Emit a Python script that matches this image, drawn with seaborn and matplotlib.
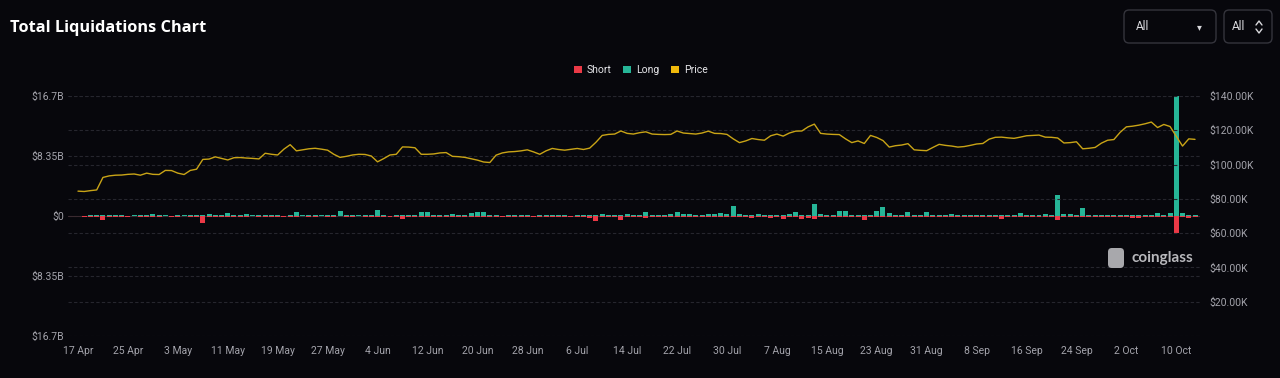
import matplotlib
matplotlib.use("Agg")
import matplotlib.pyplot as plt
import seaborn as sns
import pandas as pd
from matplotlib.patches import Patch, FancyBboxPatch
from matplotlib.lines import Line2D

sns.set_theme(style="dark")
plt.rcParams['font.family'] = ['Roboto', 'DejaVu Sans']

# ---------------- data ----------------
day_index = list(range(180))   # daily, 17 Apr .. 13 Oct
tick_days = list(range(0, 180, 8))
tick_labels = ["17 Apr", "25 Apr", "3 May", "11 May", "19 May", "27 May", "4 Jun",
               "12 Jun", "20 Jun", "28 Jun", "6 Jul", "14 Jul", "22 Jul", "30 Jul",
               "7 Aug", "15 Aug", "23 Aug", "31 Aug", "8 Sep", "16 Sep", "24 Sep",
               "2 Oct", "10 Oct"]

# long liquidations, $B
long_liq = [
    0.06, 0.05, 0.07, 0.08, 0.10, 0.15, 0.15, 0.08, 0.06, 0.07,
    0.12, 0.08, 0.30, 0.07, 0.08, 0.06, 0.07, 0.09, 0.10, 0.08,
    0.10, 0.30, 0.08, 0.15, 0.42, 0.08, 0.12, 0.30, 0.08, 0.20,
    0.14, 0.08, 0.07, 0.06, 0.09, 0.56, 0.08, 0.12, 0.07, 0.08,
    0.09, 0.15, 0.70, 0.14, 0.08, 0.07, 0.08, 0.09, 0.83, 0.08,
    0.06, 0.07, 0.08, 0.09, 0.14, 0.56, 0.56, 0.10, 0.12, 0.08,
    0.22, 0.10, 0.08, 0.35, 0.50, 0.50, 0.08, 0.07, 0.06, 0.08,
    0.10, 0.07, 0.08, 0.06, 0.12, 0.07, 0.08, 0.15, 0.07, 0.06,
    0.08, 0.07, 0.09, 0.10, 0.22, 0.10, 0.09, 0.14, 0.30, 0.08,
    0.14, 0.56, 0.08, 0.09, 0.10, 0.22, 0.56, 0.30, 0.30, 0.10,
    0.08, 0.30, 0.30, 0.42, 0.30, 1.40, 0.28, 0.08, 0.10, 0.28,
    0.08, 0.09, 0.10, 0.12, 0.22, 0.56, 0.10, 0.12, 1.70, 0.28,
    0.08, 0.09, 0.70, 0.70, 0.10, 0.08, 0.14, 0.08, 0.70, 1.30,
    0.42, 0.10, 0.12, 0.56, 0.10, 0.08, 0.56, 0.10, 0.09, 0.10,
    0.22, 0.20, 0.08, 0.07, 0.08, 0.09, 0.14, 0.10, 0.08, 0.10,
    0.12, 0.42, 0.10, 0.20, 0.10, 0.28, 0.08, 2.95, 0.28, 0.28,
    0.10, 1.07, 0.08, 0.07, 0.08, 0.09, 0.10, 0.08, 0.14, 0.08,
    0.08, 0.09, 0.10, 0.42, 0.10, 0.42, 16.70, 0.42, 0.10, 0.08,
]

# short liquidations, $B
short_liq = [
    0.06, 0.08, 0.07, 0.09, 0.55, 0.15, 0.14, 0.14, 0.07, 0.06,
    0.08, 0.07, 0.09, 0.14, 0.06, 0.07, 0.08, 0.06, 0.07, 0.08,
    0.93, 0.18, 0.14, 0.08, 0.07, 0.14, 0.08, 0.07, 0.06, 0.14,
    0.08, 0.07, 0.14, 0.14, 0.08, 0.07, 0.06, 0.08, 0.07, 0.06,
    0.07, 0.08, 0.06, 0.07, 0.08, 0.06, 0.07, 0.08, 0.07, 0.08,
    0.10, 0.12, 0.35, 0.14, 0.10, 0.08, 0.07, 0.08, 0.09, 0.14,
    0.08, 0.10, 0.12, 0.08, 0.07, 0.08, 0.20, 0.12, 0.10, 0.09,
    0.08, 0.09, 0.07, 0.08, 0.08, 0.14, 0.07, 0.08, 0.09, 0.08,
    0.10, 0.12, 0.28, 0.76, 0.10, 0.09, 0.10, 0.49, 0.10, 0.20,
    0.14, 0.28, 0.08, 0.14, 0.14, 0.10, 0.08, 0.07, 0.08, 0.09,
    0.08, 0.07, 0.08, 0.07, 0.08, 0.10, 0.09, 0.10, 0.28, 0.10,
    0.12, 0.28, 0.20, 0.42, 0.10, 0.12, 0.42, 0.28, 0.42, 0.12,
    0.10, 0.14, 0.14, 0.12, 0.20, 0.10, 0.49, 0.10, 0.14, 0.14,
    0.14, 0.14, 0.10, 0.12, 0.08, 0.10, 0.10, 0.14, 0.12, 0.08,
    0.09, 0.10, 0.08, 0.07, 0.09, 0.10, 0.08, 0.12, 0.42, 0.10,
    0.09, 0.08, 0.10, 0.10, 0.14, 0.10, 0.10, 0.56, 0.10, 0.08,
    0.09, 0.10, 0.08, 0.10, 0.12, 0.14, 0.20, 0.20, 0.10, 0.28,
    0.28, 0.20, 0.10, 0.14, 0.20, 0.10, 2.40, 0.10, 0.28, 0.10,
]

# BTC price, $K
price_k = [
    84.5, 84.3, 84.8, 85.2, 92.5, 93.4, 93.8, 93.9, 94.3, 94.5,
    93.8, 95.0, 94.3, 94.2, 96.6, 96.5, 95.0, 94.2, 96.6, 97.3,
    103.0, 103.2, 104.5, 103.6, 102.7, 104.0, 104.1, 103.8, 103.6, 103.3,
    106.6, 106.0, 105.6, 109.0, 111.6, 108.0, 108.6, 109.2, 109.5, 109.0,
    108.4, 106.0, 104.2, 104.8, 105.6, 106.0, 105.9, 105.0, 101.6, 103.5,
    105.6, 106.0, 110.3, 110.2, 109.8, 106.0, 106.0, 106.2, 106.8, 107.0,
    104.8, 104.6, 104.2, 103.4, 102.6, 101.5, 101.2, 105.5, 106.8, 107.4,
    107.6, 108.0, 108.6, 107.4, 106.0, 108.0, 109.4, 108.8, 108.4, 108.9,
    109.4, 108.8, 109.6, 113.0, 117.0, 117.6, 117.8, 119.6, 118.2, 117.8,
    118.6, 119.1, 117.8, 117.6, 117.5, 117.6, 119.6, 118.4, 118.1, 117.8,
    118.4, 119.5, 118.2, 118.1, 117.6, 115.0, 112.8, 113.8, 115.2, 114.6,
    114.2, 116.8, 117.8, 116.6, 118.4, 119.5, 119.6, 122.0, 123.6, 118.2,
    117.8, 117.6, 117.5, 115.0, 112.8, 113.8, 112.3, 117.0, 115.8, 114.0,
    110.2, 111.0, 111.4, 112.2, 108.6, 108.3, 108.1, 110.0, 111.8, 111.2,
    110.8, 110.2, 110.5, 111.2, 112.0, 112.3, 114.8, 115.9, 116.0, 115.6,
    115.3, 116.0, 116.8, 117.0, 117.2, 116.0, 115.9, 115.5, 112.6, 112.8,
    113.3, 109.2, 109.5, 110.0, 112.5, 114.2, 114.6, 118.8, 122.0, 122.4,
    123.0, 123.8, 124.8, 121.6, 123.4, 122.2, 116.5, 110.8, 115.0, 114.7,
]

left_ticks = [-16.7, -8.35, 0, 8.35, 16.7]
left_tick_labels = ["$16.7B", "$8.35B", "$0", "$8.35B", "$16.7B"]
right_ticks = [20, 40, 60, 80, 100, 120, 140]
right_tick_labels = ["$20.00K", "$40.00K", "$60.00K", "$80.00K",
                     "$100.00K", "$120.00K", "$140.00K"]

# ---------------- style ----------------
BG = "#07070c"
GREEN = "#26b597"
RED = "#ea3946"
GOLD = "#c9a416"
GOLD_LEG = "#f0b90b"
GRID = "#26262e"
TXT = "#a3a3ab"

df = pd.DataFrame({"day": day_index, "long": long_liq,
                   "short": [-v for v in short_liq], "price": price_k})

fig = plt.figure(figsize=(12.8, 3.78), dpi=100, facecolor=BG)
ax = fig.add_axes([68 / 1280, 42 / 378, 1132 / 1280, 240 / 378])
ax.set_facecolor(BG)

for y in left_ticks:
    ax.axhline(y, color=GRID, lw=0.8, ls=(0, (3, 2)), zorder=0)
ax.axhline(0, color="#3a2a30", lw=0.8, zorder=1)

sns.barplot(data=df, x="day", y="long", color=GREEN, native_scale=True,
            width=0.8, saturation=1, linewidth=0, edgecolor="none", ax=ax, zorder=2)
sns.barplot(data=df, x="day", y="short", color=RED, native_scale=True,
            width=0.8, saturation=1, linewidth=0, edgecolor="none", ax=ax, zorder=2)

ax.set_xlim(-1.6, 179.8)
ax.set_ylim(-16.7, 16.7)
ax.set_yticks(left_ticks)
ax.set_yticklabels(left_tick_labels)
ax.set_xticks(tick_days)
ax.set_xticklabels(tick_labels)
ax.set_xlabel("")
ax.set_ylabel("")
ax.tick_params(axis="y", length=0, pad=3, labelsize=7.5, labelcolor=TXT)
ax.tick_params(axis="x", length=0, pad=7, labelsize=7.5, labelcolor=TXT)
for s in ax.spines.values():
    s.set_visible(False)
ax.grid(False)

ax2 = ax.twinx()
for y in right_ticks:
    ax2.axhline(y, color=GRID, lw=0.8, ls=(0, (3, 2)), zorder=0)
sns.lineplot(data=df, x="day", y="price", color=GOLD, lw=1.0, ax=ax2, zorder=3)
ax2.set_ylim(0, 140)
ax2.set_yticks(right_ticks)
ax2.set_yticklabels(right_tick_labels)
ax2.set_ylabel("")
ax2.tick_params(axis="y", length=0, pad=7, labelsize=7.5, labelcolor=TXT)
for s in ax2.spines.values():
    s.set_visible(False)
ax2.grid(False)

# title
fig.text(10 / 1280, 1 - 28 / 378, "Total Liquidations Chart", color="white",
         fontsize=11.8, fontweight="bold", va="center", ha="left",
         family=["Open Sans", "DejaVu Sans"])

# legend
handles = [Patch(facecolor=RED, edgecolor="none", label="Short"),
           Patch(facecolor=GREEN, edgecolor="none", label="Long"),
           Patch(facecolor=GOLD_LEG, edgecolor="none", label="Price")]
leg = fig.legend(handles=handles, loc="center", bbox_to_anchor=(641 / 1280, 1 - 70 / 378),
                 ncol=3, frameon=False, fontsize=7.5, handlelength=0.75,
                 handleheight=0.75, handletextpad=0.5, columnspacing=1.1)
for t in leg.get_texts():
    t.set_color("#e6e6ea")

# dropdown boxes
def box(x0, x1, y0, y1):
    p = FancyBboxPatch((x0 / 1280, 1 - y1 / 378), (x1 - x0) / 1280, (y1 - y0) / 378,
                       boxstyle="round,pad=0,rounding_size=0.004",
                       transform=fig.transFigure, facecolor=BG,
                       edgecolor="#34343c", lw=1.0, mutation_aspect=3.4)
    fig.patches.append(p)

box(1124, 1216, 10, 43)
box(1224, 1272, 10, 43)
fig.text(1136 / 1280, 1 - 27 / 378, "All", color="#d8d8dc", fontsize=8.5,
         va="center", ha="left")
fig.text(1199 / 1280, 1 - 27 / 378, "▾", color="#d8d8dc", fontsize=7,
         va="center", ha="center", family=["DejaVu Sans"])
fig.text(1232 / 1280, 1 - 27 / 378, "All", color="#d8d8dc", fontsize=8.5,
         va="center", ha="left")
fig.lines.append(Line2D([1256 / 1280, 1259 / 1280, 1262 / 1280],
                        [1 - 25 / 378, 1 - 21 / 378, 1 - 25 / 378],
                        transform=fig.transFigure, color="#d8d8dc", lw=1))
fig.lines.append(Line2D([1256 / 1280, 1259 / 1280, 1262 / 1280],
                        [1 - 29 / 378, 1 - 33 / 378, 1 - 29 / 378],
                        transform=fig.transFigure, color="#d8d8dc", lw=1))

# watermark
fig.text(1132 / 1280, 1 - 258 / 378, "coinglass", color="#b8b8bc", fontsize=11,
         fontweight="bold", va="center", ha="left", family=["Lato", "DejaVu Sans"])
fig.patches.append(FancyBboxPatch((1108 / 1280, 1 - 268 / 378), 16 / 1280, 20 / 378,
                                  boxstyle="round,pad=0,rounding_size=0.003",
                                  transform=fig.transFigure, facecolor="#a8a8ac",
                                  edgecolor="none", mutation_aspect=3.4))

fig.savefig("out.png", dpi=100, facecolor=BG)
